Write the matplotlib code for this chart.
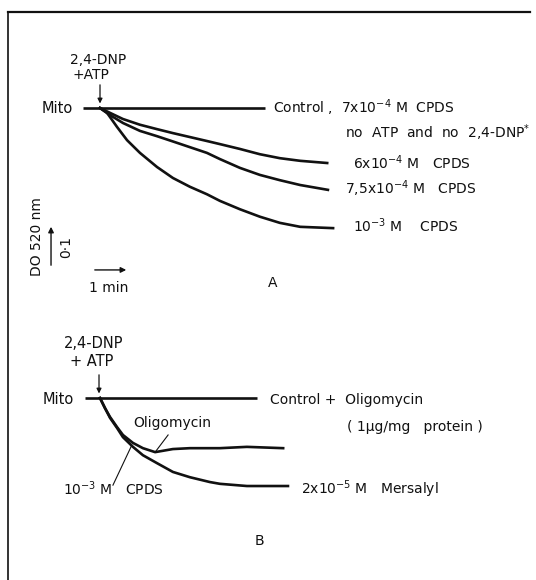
import numpy as np
import matplotlib
matplotlib.use("Agg")
import matplotlib.pyplot as plt
from matplotlib.lines import Line2D

###################################################
# Data (time in min after addition, change in DO 520 nm)
###################################################

# Panel A
a_control_t = [-0.46, 4.46]
a_control_do = [0.0, 0.0]

a_6e4_t = [0, 0.27, 0.62, 1.08, 1.54, 1.97, 2.43, 2.89, 3.24, 3.78, 4.32, 4.86, 5.41, 6.14]
a_6e4_do = [0, -0.011, -0.025, -0.038, -0.048, -0.057, -0.066, -0.075, -0.082,
            -0.093, -0.105, -0.114, -0.120, -0.125]

a_75e4_t = [0, 0.27, 0.62, 1.08, 1.54, 1.97, 2.43, 2.89, 3.24, 3.78, 4.32, 4.86, 5.41, 6.16]
a_75e4_do = [0, -0.016, -0.034, -0.052, -0.064, -0.076, -0.089, -0.102, -0.116,
             -0.136, -0.152, -0.164, -0.175, -0.186]

a_1e3_t = [0, 0.19, 0.46, 0.73, 1.08, 1.54, 1.97, 2.43, 2.89, 3.24, 3.78, 4.32, 4.86, 5.41, 6.30]
a_1e3_do = [0, -0.011, -0.043, -0.073, -0.102, -0.134, -0.159, -0.179, -0.196,
            -0.211, -0.230, -0.247, -0.261, -0.270, -0.273]

# Panel B
b_control_t = [-0.41, 4.24]
b_control_do = [0.0, 0.0]

b_mersalyl_t = [0, 0.135, 0.27, 0.46, 0.62, 0.89, 1.16, 1.54, 1.97, 2.43, 2.97, 3.24, 3.97, 5.08]
b_mersalyl_do = [0, -0.023, -0.045, -0.068, -0.089, -0.111, -0.130, -0.148, -0.168,
                 -0.180, -0.191, -0.195, -0.200, -0.200]

b_oligo_t = [0, 0.135, 0.27, 0.46, 0.62, 0.89, 1.16, 1.49, 1.97, 2.43, 3.24, 3.97, 4.95]
b_oligo_do = [0, -0.023, -0.043, -0.066, -0.084, -0.102, -0.114, -0.123, -0.116,
              -0.114, -0.114, -0.111, -0.114]

# scale bars
scale_do = 0.1
scale_min = 1.0

###################################################
# Figure
###################################################

W, H = 536, 580
fig = plt.figure(figsize=(W / 100, H / 100), dpi=100)
fig.patch.set_facecolor("white")

XLIM = (-2.703, 11.784)
YLIM = (-0.4136, 0.2455)

axA = fig.add_axes([0, 0.5, 1, 0.5])
axB = fig.add_axes([0, 0.0, 1, 0.5])

for ax in (axA, axB):
    ax.set_xlim(*XLIM)
    ax.set_ylim(*YLIM)
    ax.axis("off")

FS = 10
LW = 1.9
ink = "#111111"

# frame (left and top edge of the scanned box)
fig.add_artist(Line2D([7.5 / W, 7.5 / W], [1 - 12 / H, 0], color=ink, lw=1.2, transform=fig.transFigure))
fig.add_artist(Line2D([7.5 / W, 530 / W], [1 - 12 / H, 1 - 12 / H], color=ink, lw=1.6, transform=fig.transFigure))

###################################################
# Panel A
###################################################

axA.plot(a_control_t, a_control_do, color=ink, lw=LW, solid_capstyle="butt")
axA.plot(a_6e4_t, a_6e4_do, color=ink, lw=LW)
axA.plot(a_75e4_t, a_75e4_do, color=ink, lw=LW)
axA.plot(a_1e3_t, a_1e3_do, color=ink, lw=LW)

axA.text(-1.568, 0.0, "Mito", fontsize=FS + 0.5, va="center", ha="left", color=ink)
axA.text(-0.054, 0.108, "2,4-DNP", fontsize=FS, va="center", ha="center", color=ink)
axA.text(-0.243, 0.075, "+ATP", fontsize=FS, va="center", ha="center", color=ink)
axA.annotate("", xy=(0, 0.004), xytext=(0, 0.059),
             arrowprops=dict(arrowstyle="-|>", color=ink, lw=0.9, mutation_scale=7))

axA.text(4.676, 0.0, "Control ,  7x10$^{-4}$ M  CPDS", fontsize=FS, va="center", ha="left", color=ink)
axA.text(6.62, -0.057, "no  ATP  and  no  2,4-DNP$^{*}$", fontsize=FS, va="center", ha="left", color=ink)
axA.text(6.84, -0.125, "6x10$^{-4}$ M   CPDS", fontsize=FS, va="center", ha="left", color=ink)
axA.text(6.62, -0.184, "7,5x10$^{-4}$ M   CPDS", fontsize=FS, va="center", ha="left", color=ink)
axA.text(6.84, -0.268, "10$^{-3}$ M    CPDS", fontsize=FS, va="center", ha="left", color=ink)

# scale bars
axA.annotate("", xy=(-1.324, -0.3636 + scale_do), xytext=(-1.324, -0.3636),
             arrowprops=dict(arrowstyle="-|>", color=ink, lw=1.0, mutation_scale=8))
axA.annotate("", xy=(-0.216 + scale_min, -0.368), xytext=(-0.216, -0.368),
             arrowprops=dict(arrowstyle="-|>", color=ink, lw=1.0, mutation_scale=8))
axA.text(-1.703, -0.293, "DO 520 nm", fontsize=FS, rotation=90, va="center", ha="center", color=ink)
axA.text(-0.919, -0.316, "0·1", fontsize=FS, rotation=90, va="center", ha="center", color=ink)
axA.text(0.243, -0.409, "1 min", fontsize=FS, va="center", ha="center", color=ink)
axA.text(4.676, -0.398, "A", fontsize=FS, va="center", ha="center", color=ink)

###################################################
# Panel B
###################################################

axB.plot(b_control_t, b_control_do, color=ink, lw=LW, solid_capstyle="butt")
axB.plot(b_mersalyl_t, b_mersalyl_do, color=ink, lw=LW)
axB.plot(b_oligo_t, b_oligo_do, color=ink, lw=LW)

axB.text(-1.54, -0.0045, "Mito", fontsize=FS + 0.5, va="center", ha="left", color=ink)
axB.text(-0.162, 0.125, "2,4-DNP", fontsize=FS + 0.5, va="center", ha="center", color=ink)
axB.text(-0.216, 0.084, "+ ATP", fontsize=FS + 0.5, va="center", ha="center", color=ink)
axB.annotate("", xy=(-0.027, 0.004), xytext=(-0.027, 0.059),
             arrowprops=dict(arrowstyle="-|>", color=ink, lw=0.9, mutation_scale=7))

axB.text(4.59, -0.005, "Control +  Oligomycin", fontsize=FS, va="center", ha="left", color=ink)
axB.text(6.68, -0.066, "( 1μg/mg   protein )", fontsize=FS, va="center", ha="left", color=ink)
axB.text(1.95, -0.057, "Oligomycin", fontsize=FS, va="center", ha="center", color=ink)
axB.plot([1.84, 1.49], [-0.084, -0.123], color=ink, lw=0.8)
axB.text(-1.0, -0.205, "10$^{-3}$ M   CPDS", fontsize=FS, va="center", ha="left", color=ink)
axB.plot([0.86, 0.35], [-0.107, -0.198], color=ink, lw=0.8)
axB.text(5.43, -0.207, "2x10$^{-5}$ M   Mersalyl", fontsize=FS, va="center", ha="left", color=ink)
axB.text(4.32, -0.325, "B", fontsize=FS, va="center", ha="center", color=ink)

fig.savefig("out.png", dpi=100, facecolor="white")
plt.close(fig)
